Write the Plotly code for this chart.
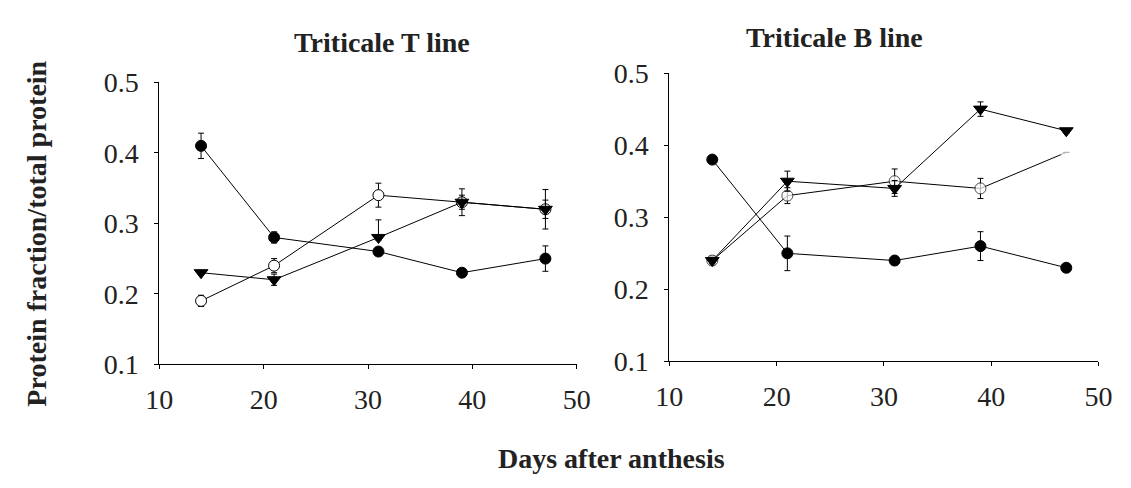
import plotly.graph_objects as go

W, H = 1131, 488

days = [14, 21, 31, 39, 47]

# Triticale T line
t_filled = [0.41, 0.28, 0.26, 0.23, 0.25]
t_filled_err = [0.018, 0.008, 0.005, 0.004, 0.018]
t_open = [0.19, 0.24, 0.34, 0.33, 0.32]
t_open_err = [0.008, 0.010, 0.017, 0.019, 0.028]
t_tri = [0.23, 0.22, 0.28, 0.33, 0.32]
t_tri_err_plus = [0.0, 0.008, 0.025, 0.010, 0.013]
t_tri_err_minus = [0.0, 0.008, 0.004, 0.010, 0.013]

# Triticale B line
b_filled = [0.38, 0.25, 0.24, 0.26, 0.23]
b_filled_err = [0.004, 0.024, 0.006, 0.020, 0.003]
b_open = [0.24, 0.33, 0.35, 0.34, 0.39]
b_open_err = [0.006, 0.011, 0.017, 0.014, 0.0]
b_tri = [0.24, 0.35, 0.34, 0.45, 0.42]
b_tri_err = [0.004, 0.014, 0.011, 0.010, 0.003]

x_ticks = [10, 20, 30, 40, 50]
y_ticks = [0.1, 0.2, 0.3, 0.4, 0.5]

FONT = "Liberation Serif, Times New Roman, serif"
BLACK = "#000000"

fig = go.Figure()


def err(arr, arr_minus=None):
    d = dict(type="data", array=arr, visible=True, color=BLACK, thickness=1, width=3)
    if arr_minus is not None:
        d["symmetric"] = False
        d["arrayminus"] = arr_minus
    return d


def add_series(xa, ya, y, e, symbol, fill, em=None, last_hidden=False):
    sizes = 11 if symbol != "triangle-down" else 12
    marker = dict(symbol=symbol, size=sizes, color=fill,
                  line=dict(color=BLACK, width=1))
    if last_hidden:
        marker = dict(symbol=symbol, size=[sizes] * (len(y) - 1) + [11],
                      color=[fill] * (len(y) - 1) + ["#ffffff"],
                      line=dict(color=[BLACK] * (len(y) - 1) + ["#ffffff"], width=1))
    fig.add_trace(go.Scatter(
        x=days, y=y, mode="lines+markers", xaxis=xa, yaxis=ya,
        line=dict(color=BLACK, width=1),
        marker=marker,
        error_y=err(e, em),
        showlegend=False, cliponaxis=False,
    ))


# left panel
add_series("x", "y", t_filled, t_filled_err, "circle", BLACK)
add_series("x", "y", t_open, t_open_err, "circle", "#ffffff")
add_series("x", "y", t_tri, t_tri_err_plus, "triangle-down", BLACK, t_tri_err_minus)
# right panel
add_series("x2", "y2", b_filled, b_filled_err, "circle", BLACK)
add_series("x2", "y2", b_open, b_open_err, "circle", "#ffffff", last_hidden=True)
add_series("x2", "y2", b_tri, b_tri_err, "triangle-down", BLACK)

axis_common = dict(
    showline=True, linecolor=BLACK, linewidth=1, showgrid=False, zeroline=False,
    ticks="outside", ticklen=4, tickcolor=BLACK, tickwidth=1,
    tickfont=dict(family=FONT, size=28, color="#222222"),
    fixedrange=True,
)

fig.update_layout(
    width=W, height=H,
    margin=dict(l=0, r=0, t=0, b=0),
    paper_bgcolor="white", plot_bgcolor="white",
    xaxis=dict(domain=[149 / W, 577 / W], range=[10, 50], tickvals=x_ticks,
               anchor="y", ticklabelstandoff=6, **axis_common),
    yaxis=dict(domain=[1 - 373 / H, 1 - 72 / H], range=[0.1, 0.5], tickvals=y_ticks,
               tickformat=".1f", anchor="x", ticklabelstandoff=10, **axis_common),
    xaxis2=dict(domain=[672 / W, 1112 / W], range=[10, 50], tickvals=x_ticks,
                anchor="y2", ticklabelstandoff=6, **axis_common),
    yaxis2=dict(domain=[1 - 370 / H, 1 - 62 / H], range=[0.1, 0.5], tickvals=y_ticks,
                tickformat=".1f", anchor="x2", ticklabelstandoff=10, **axis_common),
)

title_font = dict(family=FONT, size=28, color="#222222")
fig.add_annotation(text="<b>Triticale T line</b>", x=377 / W, y=1 - 29 / H,
                   xref="paper", yref="paper", showarrow=False,
                   xanchor="center", yanchor="middle", font=title_font)
fig.add_annotation(text="<b>Triticale B line</b>", x=841 / W, y=1 - 24 / H,
                   xref="paper", yref="paper", showarrow=False,
                   xanchor="center", yanchor="middle", font=title_font)
fig.add_annotation(text="<b>Days after anthesis</b>", x=613 / W, y=1 - 474 / H,
                   xref="paper", yref="paper", showarrow=False,
                   xanchor="center", yanchor="middle", font=title_font)
fig.add_annotation(text="<b>Protein fraction/total protein</b>", x=23 / W, y=1 - 233 / H,
                   xref="paper", yref="paper", showarrow=False, textangle=-90,
                   xanchor="center", yanchor="middle", font=title_font)

fig.write_html("out.html")
